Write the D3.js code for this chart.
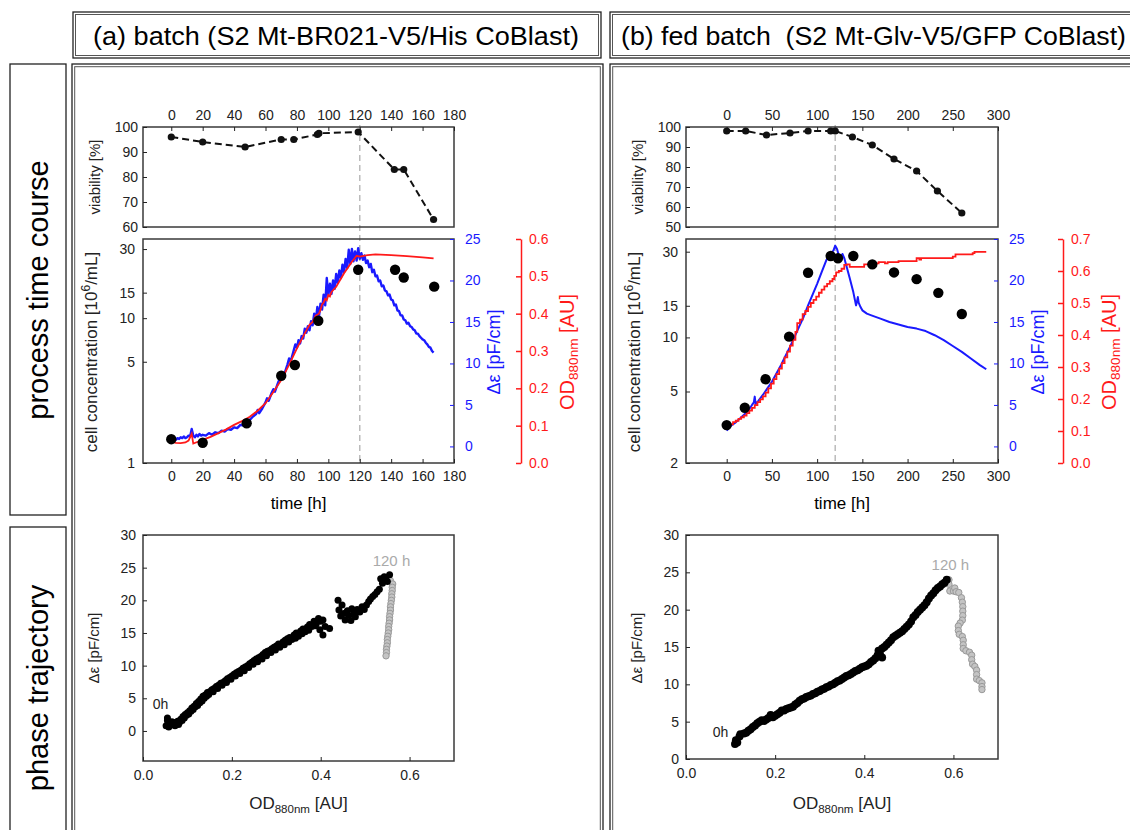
<!DOCTYPE html>
<html>
<head>
<meta charset="utf-8">
<script src="https://cdn.jsdelivr.net/npm/d3@7"></script>
<style>
  body { margin: 0; background: #fff; }
  svg { font-family: "Liberation Sans", Arial, sans-serif; }
  .tick text { font-size: 14px; }
</style>
</head>
<body>
<svg width="1130" height="830"></svg>
<script>
// ---------- data ----------
// (a) batch: viability [t (h), %]
const viabA = [[0,96],[20,94],[47,92],[70,95],[78,95],[93,97],[94,97.5],[119,98],[142,83],[148,83],[167,63]];
// (a) cell concentration [t, 10^6/mL]
const concA = [[0,1.46],[20,1.38],[48,1.88],[70,4.0],[78.7,4.75],[93.6,9.6],[119,21.6],[142.5,21.6],[148,19.1],[167.4,16.5]];
// (a) permittivity Δε [t, pF/cm]
const epsA = [[0,0.8],[1,0.7],[2,0.9],[3,0.8],[4,1.0],[5,0.9],[6,1.1],[7,1.0],[8,1.2],[9,1.0],[10,1.1],[11,1.3],[12,1.2],[13,2.1],[14,1.3],[15,1.1],[16,1.4],[17,1.2],[18,1.5],[19,1.3],[20,1.4],[22,1.3],[24,1.6],[26,1.4],[28,1.7],[30,1.6],[32,1.9],[34,1.8],[36,2.1],[38,2.0],[40,2.3],[42,2.2],[44,2.6],[46,2.5],[48,2.9],[50,3.2],[52,3.6],[54,3.9],[55,4.4],[56,4.0],[58,4.6],[60,5.3],[61,5.8],[62,5.5],[64,6.5],[65,6.9],[66,6.6],[68,7.7],[70,8.5],[71,8.9],[72,8.7],[74,9.9],[75,10.6],[76,10.2],[78,11.6],[79,12.3],[80,11.9],[81,12.8],[82,12.4],[83,13.3],[84,13.0],[85,14.2],[86,13.7],[87,14.5],[88,14.0],[89,15.1],[90,14.6],[91,16.0],[92,15.2],[93,16.8],[94,15.6],[95,17.2],[96,16.5],[97,18.3],[98,17.0],[99,20.3],[100,18.2],[101,19.6],[102,18.4],[103,20.0],[104,19.0],[105,20.8],[106,19.7],[107,21.2],[108,20.3],[109,21.9],[110,21.0],[111,22.6],[112,21.5],[113,23.7],[114,22.0],[115,23.8],[116,22.3],[117,23.5],[118,22.4],[119,23.9],[120,22.6],[121,23.3],[122,22.5],[123,23.0],[124,22.1],[125,22.4],[126,21.6],[127,22.0],[128,21.0],[129,21.3],[130,20.5],[131,20.6],[132,19.9],[133,20.0],[134,19.3],[135,19.4],[136,18.8],[137,18.7],[138,18.2],[139,18.3],[140,17.7],[141,17.6],[142,17.0],[143,17.1],[144,16.4],[145,16.3],[146,15.8],[147,15.8],[148,15.3],[149,15.2],[150,14.8],[151,14.9],[152,14.5],[153,14.4],[154,14.1],[155,14.0],[156,13.6],[157,13.6],[158,13.3],[159,13.1],[160,12.9],[161,12.8],[162,12.5],[163,12.3],[164,12.0],[165,11.9],[166,11.5],[167,11.3]];
// (a) optical density OD880nm [t, AU]
const odA = [[0,0.057],[3,0.054],[6,0.053],[9,0.055],[11,0.06],[13,0.078],[14,0.052],[17,0.057],[20,0.062],[25,0.07],[30,0.08],[35,0.09],[40,0.102],[45,0.112],[50,0.124],[55,0.14],[60,0.16],[65,0.19],[70,0.222],[75,0.263],[80,0.307],[85,0.347],[88,0.37],[90,0.378],[92,0.395],[94,0.4],[95,0.41],[96,0.425],[97,0.43],[98,0.44],[99,0.436],[100,0.45],[101,0.446],[102,0.458],[105,0.472],[110,0.508],[115,0.539],[118,0.555],[120,0.553],[125,0.557],[130,0.559],[140,0.557],[150,0.554],[160,0.551],[167,0.548]];
// (a) phase trajectory [OD, Δε], before and after 120 h
const phaseA = [[0.052,0.8],[0.055,1.6],[0.055,2.0],[0.058,0.6],[0.06,1.2],[0.062,0.9],[0.065,1.4],[0.068,1.0],[0.07,1.3],[0.072,0.8],[0.075,1.1],[0.078,1.5],[0.08,1.0],[0.082,1.3],[0.085,1.8],[0.088,1.6],[0.09,2.2],[0.093,2.0],[0.095,2.5],[0.098,2.4],[0.1,2.8],[0.103,2.6],[0.105,3.1],[0.108,3.0],[0.11,3.5],[0.113,3.3],[0.115,3.8],[0.118,3.7],[0.12,4.2],[0.123,3.9],[0.125,4.5],[0.128,4.3],[0.13,4.9],[0.133,4.6],[0.135,5.3],[0.138,5.0],[0.14,5.5],[0.143,5.3],[0.145,5.9],[0.148,5.6],[0.15,6.0],[0.155,6.3],[0.158,6.0],[0.16,6.5],[0.165,6.8],[0.168,6.5],[0.17,7.0],[0.175,7.3],[0.178,7.0],[0.18,7.4],[0.185,7.7],[0.188,7.4],[0.19,8.0],[0.195,8.2],[0.198,7.9],[0.2,8.4],[0.205,8.7],[0.208,8.4],[0.21,8.9],[0.215,9.1],[0.218,8.8],[0.22,9.3],[0.225,9.6],[0.228,9.2],[0.23,9.8],[0.235,10.0],[0.238,9.7],[0.24,10.3],[0.245,10.5],[0.248,10.2],[0.25,10.8],[0.255,11.0],[0.258,10.6],[0.26,11.2],[0.265,11.4],[0.268,11.0],[0.27,11.7],[0.275,12.0],[0.278,11.5],[0.28,12.2],[0.285,12.3],[0.288,12.0],[0.29,12.6],[0.295,12.8],[0.298,12.4],[0.3,13.0],[0.305,13.3],[0.308,12.8],[0.31,13.2],[0.315,13.6],[0.318,13.2],[0.32,13.9],[0.325,14.1],[0.328,13.6],[0.33,14.3],[0.335,14.0],[0.34,14.7],[0.343,14.2],[0.345,15.0],[0.35,14.5],[0.355,15.3],[0.358,14.9],[0.36,15.6],[0.365,15.2],[0.37,15.9],[0.373,15.4],[0.375,16.3],[0.38,16.0],[0.385,16.8],[0.388,16.1],[0.39,16.4],[0.395,17.2],[0.398,15.5],[0.4,16.8],[0.405,17.0],[0.41,16.0],[0.405,14.7],[0.42,15.7],[0.439,20.0],[0.441,18.5],[0.445,17.6],[0.448,19.3],[0.452,18.0],[0.455,17.0],[0.46,18.4],[0.463,17.7],[0.468,16.9],[0.47,18.7],[0.475,17.9],[0.478,17.5],[0.482,18.6],[0.488,18.2],[0.493,19.0],[0.498,18.6],[0.503,19.3],[0.508,19.8],[0.512,20.2],[0.517,20.6],[0.522,20.9],[0.527,21.3],[0.532,21.7],[0.535,23.3],[0.539,22.6],[0.543,23.6],[0.546,23.4],[0.55,22.9],[0.555,23.9]];
const phaseA2 = [[0.557,23.0],[0.562,22.5],[0.561,22.0],[0.561,21.5],[0.56,21.0],[0.56,20.5],[0.559,20.0],[0.558,19.5],[0.557,19.0],[0.557,18.5],[0.556,18.0],[0.555,17.5],[0.555,17.0],[0.554,16.5],[0.553,16.0],[0.553,15.5],[0.552,15.0],[0.551,14.5],[0.55,14.0],[0.55,13.5],[0.549,13.0],[0.548,12.5],[0.548,12.0],[0.547,11.5]];

// (b) fed batch: viability [t, %]
const viabB = [[0,98],[21,98],[44,96],[70,97],[90,98],[115,98],[120,98],[139,95],[161,91],[185,84],[210,78],[233,68],[260,57]];
// (b) cell concentration [t, 10^6/mL]
const concB = [[0,3.25],[20,4.06],[43,5.85],[69,10.1],[90,22.9],[115,28.4],[123,27.6],[140,28.4],[161,25.5],[185,23.0],[210,21.1],[234,17.7],[260,13.5]];
// (b) permittivity Δε [t, pF/cm]
const epsB = [[0,1.9],[3,2.3],[6,2.6],[10,2.9],[15,3.4],[20,3.9],[25,4.5],[28,5.0],[30,5.3],[31,6.0],[32,5.1],[35,5.5],[40,6.2],[45,7.0],[50,7.8],[55,8.8],[60,9.8],[65,10.9],[70,12.0],[75,13.2],[80,14.4],[85,15.6],[90,17.0],[95,18.3],[100,19.6],[105,21.0],[110,22.4],[114,23.2],[118,23.6],[120,24.2],[122,23.8],[124,23.0],[126,22.7],[128,23.2],[130,22.7],[133,21.5],[136,20.3],[140,18.6],[143,17.0],[144,17.4],[145,18.0],[146,17.3],[148,16.8],[150,16.4],[155,16.0],[160,15.8],[170,15.4],[180,15.0],[190,14.7],[200,14.4],[210,14.2],[220,13.9],[230,13.4],[240,12.8],[250,12.1],[260,11.4],[270,10.6],[280,9.8],[287,9.3]];
// (b) optical density OD880nm [t, AU], logged in steps
const odB = [[0,0.121],[4,0.121],[7,0.128],[10,0.132],[13,0.138],[16,0.143],[19,0.148],[22,0.156],[25,0.164],[28,0.172],[31,0.181],[34,0.19],[37,0.199],[40,0.208],[43,0.22],[46,0.233],[49,0.248],[52,0.262],[55,0.278],[58,0.295],[61,0.312],[64,0.33],[67,0.348],[70,0.367],[73,0.385],[76,0.41],[78,0.437],[81,0.448],[84,0.465],[87,0.475],[90,0.488],[93,0.5],[96,0.51],[99,0.52],[102,0.532],[105,0.542],[108,0.552],[111,0.56],[114,0.568],[117,0.575],[119,0.585],[121,0.596],[124,0.6],[127,0.607],[130,0.619],[133,0.621],[136,0.613],[150,0.613],[152,0.621],[165,0.624],[168,0.628],[175,0.624],[178,0.628],[190,0.631],[210,0.64],[213,0.636],[215,0.64],[250,0.645],[253,0.652],[272,0.656],[274,0.66],[287,0.66]];
// (b) phase trajectory [OD, Δε]
const phaseB = [[0.11,2.0],[0.112,2.5],[0.115,2.2],[0.12,3.0],[0.122,3.3],[0.13,3.4],[0.135,3.5],[0.14,3.8],[0.145,4.0],[0.15,4.3],[0.155,4.5],[0.16,4.8],[0.165,5.0],[0.17,5.2],[0.175,5.1],[0.18,5.3],[0.185,5.5],[0.19,5.9],[0.195,5.6],[0.2,5.8],[0.205,6.0],[0.21,6.2],[0.215,6.5],[0.22,6.5],[0.225,6.7],[0.23,6.8],[0.235,6.9],[0.24,7.0],[0.245,7.3],[0.25,7.5],[0.255,7.8],[0.26,8.0],[0.265,8.1],[0.27,8.3],[0.275,8.4],[0.28,8.5],[0.285,8.7],[0.29,8.8],[0.295,9.0],[0.3,9.1],[0.305,9.3],[0.31,9.4],[0.315,9.6],[0.32,9.7],[0.325,9.9],[0.33,10.0],[0.335,10.2],[0.34,10.4],[0.345,10.5],[0.35,10.7],[0.355,10.9],[0.36,11.1],[0.365,11.2],[0.37,11.4],[0.375,11.6],[0.38,11.8],[0.385,11.9],[0.39,12.1],[0.395,12.3],[0.4,12.4],[0.405,12.5],[0.41,12.7],[0.415,13.0],[0.42,13.2],[0.425,13.5],[0.43,13.9],[0.432,14.5],[0.435,14.1],[0.44,14.8],[0.44,13.6],[0.445,15.0],[0.45,15.3],[0.455,15.6],[0.46,15.9],[0.465,16.3],[0.47,16.5],[0.475,16.7],[0.48,16.9],[0.485,17.1],[0.49,17.4],[0.495,17.7],[0.5,18.0],[0.505,18.4],[0.51,19.0],[0.515,19.3],[0.52,19.7],[0.525,20.0],[0.53,20.3],[0.535,20.6],[0.54,21.0],[0.545,21.5],[0.55,21.9],[0.555,22.2],[0.56,22.6],[0.565,22.9],[0.57,23.1],[0.575,23.4],[0.58,23.6],[0.585,24.0]];
const phaseB2 = [[0.59,24.0],[0.59,23.4],[0.592,22.5],[0.6,22.5],[0.603,22.9],[0.606,22.4],[0.612,22.3],[0.618,21.6],[0.62,21.0],[0.621,20.4],[0.621,19.8],[0.621,19.2],[0.62,18.6],[0.615,18.2],[0.611,17.8],[0.611,17.2],[0.613,16.7],[0.62,16.4],[0.622,15.9],[0.622,15.3],[0.622,14.8],[0.628,14.5],[0.636,14.3],[0.641,13.9],[0.641,13.3],[0.643,12.7],[0.648,12.4],[0.652,11.9],[0.652,11.3],[0.652,10.7],[0.658,10.5],[0.664,10.2],[0.664,9.7],[0.664,9.3]];

// tick values
const timeTicksA = d3.range(0, 181, 20);
const timeTicksB = d3.range(0, 301, 50);
const viabTicksA = [60, 70, 80, 90, 100];
const viabTicksB = [50, 60, 70, 80, 90, 100];
const concTicksA = [1, 5, 10, 15, 30];
const concTicksB = [2, 5, 10, 15, 30];
const epsTicks = [0, 5, 10, 15, 20, 25];
const odTicksA = [0, 0.1, 0.2, 0.3, 0.4, 0.5, 0.6];
const odTicksB = [0, 0.1, 0.2, 0.3, 0.4, 0.5, 0.6, 0.7];
const phaseXTicks = [0, 0.2, 0.4, 0.6];
const phaseYTicks = [0, 5, 10, 15, 20, 25, 30];

const svg = d3.select("svg");
const BLUE = "#1a1aff", RED = "#ff1a1a", FRAME = "#3a3a3a";

// double-lined box
function box(x, y, w, h, gap) {
    svg.append("rect").attr("x", x).attr("y", y).attr("width", w).attr("height", h)
        .attr("fill", "none").attr("stroke", "#222").attr("stroke-width", 1.3);
    if (gap) svg.append("rect").attr("x", x + gap).attr("y", y + gap)
        .attr("width", w - 2 * gap).attr("height", h - 2 * gap)
        .attr("fill", "none").attr("stroke", "#555").attr("stroke-width", 1);
}

// headers and row labels
box(73, 12, 528, 46, 2.5);
box(610, 12, 540, 46, 2.5);
svg.append("text").attr("x", 93).attr("y", 45).attr("font-size", 26)
    .attr("textLength", 486).attr("lengthAdjust", "spacingAndGlyphs")
    .text("(a) batch (S2 Mt-BR021-V5/His CoBlast)");
svg.append("text").attr("x", 621).attr("y", 45).attr("font-size", 26)
    .attr("textLength", 505).attr("lengthAdjust", "spacingAndGlyphs")
    .attr("xml:space", "preserve")
    .text("(b) fed batch  (S2 Mt-Glv-V5/GFP CoBlast)");
box(72, 64, 531, 790, 2.7);
box(610, 64, 540, 790, 2.7);
box(10, 64, 56, 451, 0);
box(10, 527, 56, 330, 0);
svg.append("text").attr("transform", "translate(48,290) rotate(-90)")
    .attr("text-anchor", "middle").attr("font-size", 29).text("process time course");
svg.append("text").attr("transform", "translate(48,688) rotate(-90)")
    .attr("text-anchor", "middle").attr("font-size", 29).text("phase trajectory");

function styleAxis(sel, color) {
    sel.select(".domain").remove();
    sel.selectAll(".tick line").attr("stroke", color);
    sel.selectAll(".tick text").attr("fill", color).attr("font-family", null);
    sel.attr("font-family", null).attr("font-size", null);
}

function rotLabel(g, x, y, color) {
    return g.append("text").attr("transform", `translate(${x},${y}) rotate(-90)`)
        .attr("text-anchor", "middle").attr("fill", color);
}

function odLabel(t, size) {
    t.append("tspan").attr("font-size", size).text("OD");
    t.append("tspan").attr("font-size", size * 0.68).attr("dy", 4).text("880nm");
    t.append("tspan").attr("font-size", size).attr("dy", -4).text(" [AU]");
}

function drawPanel(p) {
    const g = svg.append("g");
    const L = p.left, R = p.right;

    const xT = d3.scaleLinear().domain(p.tDomain).range([L, R]);
    const yV = d3.scaleLinear().domain(p.viabDomain).range([227, 127]);
    const yC = d3.scaleLog().domain(p.concDomain).range([463, 239]);
    const yE = d3.scaleLinear().domain([-2, 25]).range([463, 239]);
    const yO = d3.scaleLinear().domain(p.odDomain).range([463, 239]);
    const xP = d3.scaleLinear().domain([0, 0.7]).range([L, R]);
    const yP = d3.scaleLinear().domain(p.phaseYDomain).range([p.pBottom, 535]);

    // 120 h marker
    g.append("line").attr("x1", xT(120)).attr("x2", xT(120)).attr("y1", 125).attr("y2", 463)
        .attr("stroke", "#bbb").attr("stroke-width", 1.5).attr("stroke-dasharray", "6,4");

    // ---- viability ----
    g.append("rect").attr("x", L).attr("y", 127).attr("width", R - L).attr("height", 100)
        .attr("fill", "none").attr("stroke", FRAME).attr("stroke-width", 1.5);
    g.append("g").attr("transform", "translate(0,127)")
        .call(d3.axisTop(xT).tickValues(p.timeTicks).tickSize(-4).tickPadding(7))
        .call(s => styleAxis(s, "#222"));
    g.append("g").attr("transform", `translate(${L},0)`)
        .call(d3.axisLeft(yV).tickValues(p.viabTicks).tickSize(-4).tickPadding(5))
        .call(s => styleAxis(s, "#222"));
    g.append("path").datum(p.viab)
        .attr("fill", "none").attr("stroke", "#111").attr("stroke-width", 2)
        .attr("stroke-dasharray", "7,4")
        .attr("d", d3.line().x(d => xT(d[0])).y(d => yV(d[1])));
    g.selectAll(".vdot").data(p.viab).enter().append("circle")
        .attr("cx", d => xT(d[0])).attr("cy", d => yV(d[1])).attr("r", 3.6).attr("fill", "#111");
    rotLabel(g, L - 43, 177, "#222").attr("font-size", 15).text("viability [%]");

    // ---- time course ----
    g.append("rect").attr("x", L).attr("y", 239).attr("width", R - L).attr("height", 224)
        .attr("fill", "none").attr("stroke", FRAME).attr("stroke-width", 1.5);
    g.append("g").attr("transform", "translate(0,463)")
        .call(d3.axisBottom(xT).tickValues(p.timeTicks).tickSize(-4).tickPadding(8))
        .call(s => styleAxis(s, "#222"));
    g.append("g").attr("transform", `translate(${L},0)`)
        .call(d3.axisLeft(yC).tickValues(p.concTicks).tickFormat(d3.format("d")).tickSize(-4).tickPadding(8))
        .call(s => styleAxis(s, "#222"));
    g.append("g").attr("transform", `translate(${R},0)`)
        .call(d3.axisRight(yE).tickValues(epsTicks).tickSize(-4).tickPadding(11))
        .call(s => styleAxis(s, BLUE));
    const odAx = g.append("g").attr("transform", `translate(${p.redX},0)`)
        .call(d3.axisRight(yO).tickValues(p.odTicks).tickFormat(d3.format(".1f"))
            .tickSizeInner(-5).tickSizeOuter(0).tickPadding(8));
    odAx.select(".domain").attr("stroke", RED).attr("stroke-width", 1.5);
    odAx.selectAll(".tick line").attr("stroke", RED).attr("stroke-width", 1.5);
    odAx.selectAll(".tick text").attr("fill", RED);
    odAx.attr("font-family", null).attr("font-size", null);

    g.append("path").datum(p.eps)
        .attr("fill", "none").attr("stroke", BLUE).attr("stroke-width", p.epsWidth)
        .attr("stroke-linejoin", "round")
        .attr("d", d3.line().x(d => xT(d[0])).y(d => yE(d[1])));
    g.append("path").datum(p.od)
        .attr("fill", "none").attr("stroke", RED).attr("stroke-width", 1.8)
        .attr("d", d3.line().curve(p.odCurve).x(d => xT(d[0])).y(d => yO(d[1])));
    g.selectAll(".cdot").data(p.conc).enter().append("circle")
        .attr("cx", d => xT(d[0])).attr("cy", d => yC(d[1])).attr("r", 5.2).attr("fill", "#000");

    const cl = rotLabel(g, L - 46, 352, "#222").attr("font-size", 17);
    cl.append("tspan").text("cell concentration [10");
    cl.append("tspan").attr("font-size", 12).attr("dy", -7).text("6");
    cl.append("tspan").attr("dy", 7).text("/mL]");
    rotLabel(g, R + 46, 352, BLUE).attr("font-size", 18).text("\u0394\u03b5 [pF/cm]");
    odLabel(rotLabel(g, p.redX + 53, 352, RED), 20);
    g.append("text").attr("x", (L + R) / 2).attr("y", 509).attr("text-anchor", "middle")
        .attr("font-size", 17).text("time [h]");

    // ---- phase trajectory ----
    g.append("rect").attr("x", L).attr("y", 535).attr("width", R - L).attr("height", p.pBottom - 535)
        .attr("fill", "none").attr("stroke", FRAME).attr("stroke-width", 1.5);
    g.append("g").attr("transform", `translate(0,${p.pBottom})`)
        .call(d3.axisBottom(xP).tickValues(phaseXTicks).tickFormat(d3.format(".1f")).tickSize(-4).tickPadding(9))
        .call(s => styleAxis(s, "#222"));
    g.append("g").attr("transform", `translate(${L},0)`)
        .call(d3.axisLeft(yP).tickValues(phaseYTicks).tickSize(-4).tickPadding(7))
        .call(s => styleAxis(s, "#222"));
    g.selectAll(".p2").data(p.phase2).enter().append("circle")
        .attr("cx", d => xP(d[0])).attr("cy", d => yP(d[1])).attr("r", 3.2)
        .attr("fill", "#c4c4c4").attr("stroke", "#999").attr("stroke-width", 1);
    g.selectAll(".p1").data(p.phase).enter().append("circle")
        .attr("cx", d => xP(d[0])).attr("cy", d => yP(d[1])).attr("r", p.phaseR).attr("fill", "#000");
    rotLabel(g, L - 44, 648, "#222").attr("font-size", 15).text("\u0394\u03b5 [pF/cm]");
    odLabel(g.append("text").attr("x", (L + R) / 2).attr("y", 809).attr("text-anchor", "middle")
        .attr("fill", "#222"), 17);
    g.append("text").attr("x", xP(p.zeroLabel[0])).attr("y", yP(p.zeroLabel[1]))
        .attr("font-size", 14).attr("fill", "#222").text("0h");
    g.append("text").attr("x", xP(p.endLabel[0])).attr("y", yP(p.endLabel[1]))
        .attr("font-size", 15).attr("fill", "#aaa").text("120 h");
}

drawPanel({
    left: 143, right: 454, redX: 521, pBottom: 761,
    tDomain: [-18, 180], viabDomain: [60, 100], concDomain: [1, 35.2], odDomain: [0, 0.6],
    phaseYDomain: [-4.6, 30],
    timeTicks: timeTicksA, viabTicks: viabTicksA, concTicks: concTicksA, odTicks: odTicksA,
    viab: viabA, conc: concA, eps: epsA, epsWidth: 2.4, od: odA, odCurve: d3.curveLinear,
    phase: phaseA, phase2: phaseA2, phaseR: 3.5,
    zeroLabel: [0.022, 3.3], endLabel: [0.517, 25.2]
});
drawPanel({
    left: 686, right: 998, redX: 1063, pBottom: 759,
    tDomain: [-45, 300], viabDomain: [50, 100], concDomain: [2, 35.3], odDomain: [0, 0.7],
    phaseYDomain: [0, 30],
    timeTicks: timeTicksB, viabTicks: viabTicksB, concTicks: concTicksB, odTicks: odTicksB,
    viab: viabB, conc: concB, eps: epsB, epsWidth: 2, od: odB, odCurve: d3.curveStepAfter,
    phase: phaseB, phase2: phaseB2, phaseR: 4,
    zeroLabel: [0.06, 3.0], endLabel: [0.551, 25.3]
});
</script>
</body>
</html>
